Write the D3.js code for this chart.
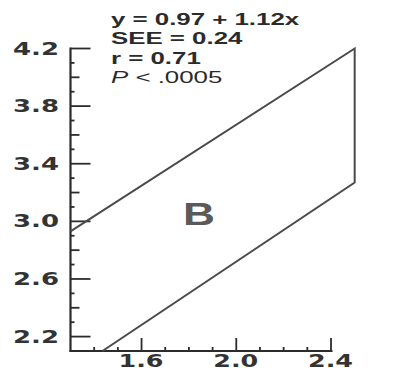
<!DOCTYPE html>
<html>
<head>
<meta charset="utf-8">
<script src="https://cdn.jsdelivr.net/npm/d3@7"></script>
<style>
  html, body { margin: 0; padding: 0; background: #fff; }
  svg { display: block; }
</style>
</head>
<body>
<svg id="chart" width="396" height="375"></svg>
<script>
// Axis ranges and ticks
const xDomain = [1.3, 2.4];
const yDomain = [2.1, 4.2];
const xTickLabels = ["1.6", "2.0", "2.4"];
const yTickLabels = ["4.2", "3.8", "3.4", "3.0", "2.6", "2.2"];

// Prediction band around the regression line: upper edge, lower edge
const upperX = [1.3, 2.5];
const upperY = [2.93, 4.2];
const lowerX = [1.435, 2.5];
const lowerY = [2.1, 3.27];

// Regression summary
const statLines = ["y = 0.97 + 1.12x", "SEE = 0.24", "r = 0.71", "P < .0005"];
const panelLabel = "B";

const svg = d3.select("#chart");
const x = d3.scaleLinear().domain(xDomain).range([70.5, 331]);
const y = d3.scaleLinear().domain(yDomain).range([351, 48.5]);

const ink = "#2b2b2b";

// tenth-step tick values
const tenths = (lo, hi) => d3.range(Math.round(lo * 10), Math.round(hi * 10) + 1).map(v => v / 10);
const isMul = (v, m) => Math.abs(Math.round(v * 10) % m) === 0;

// ---- Y axis: long ticks every 0.4, medium at 0.2, short at 0.1
const yMajor = yTickLabels.map(Number);
const yAxisG = svg.append("g").attr("transform", `translate(${x(xDomain[0])},0)`);
yAxisG.append("line")
  .attr("x1", 0).attr("x2", 0)
  .attr("y1", y(yDomain[1]) - 1).attr("y2", y(yDomain[0]) + 1)
  .attr("stroke", ink).attr("stroke-width", 2.2);
yAxisG.selectAll("line.tick")
  .data(tenths(2.2, 4.2))
  .join("line")
  .attr("class", "tick")
  .attr("x1", 0)
  .attr("x2", d => yMajor.some(m => Math.abs(m - d) < 1e-6) ? 20 : (isMul(d, 2) ? 9 : 4))
  .attr("y1", d => y(d)).attr("y2", d => y(d))
  .attr("stroke", ink).attr("stroke-width", 1.8);

svg.append("g").selectAll("text")
  .data(yTickLabels)
  .join("text")
  .attr("x", 13)
  .attr("y", d => y(+d))
  .attr("dy", "0.36em")
  .attr("textLength", 46)
  .attr("lengthAdjust", "spacingAndGlyphs")
  .attr("font-family", "DejaVu Sans, sans-serif")
  .attr("font-weight", "bold")
  .attr("font-size", 17)
  .attr("fill", "#333")
  .text(d => d);

// ---- X axis: ticks rise from the baseline
const xMajor = xTickLabels.map(Number);
const xAxisG = svg.append("g").attr("transform", `translate(0,${y(yDomain[0])})`);
xAxisG.append("line")
  .attr("x1", x(xDomain[0]) - 1).attr("x2", x(xDomain[1]) + 1.5)
  .attr("y1", 0).attr("y2", 0)
  .attr("stroke", ink).attr("stroke-width", 2.2);
xAxisG.selectAll("line.tick")
  .data(tenths(1.4, 2.4))
  .join("line")
  .attr("class", "tick")
  .attr("x1", d => x(d)).attr("x2", d => x(d))
  .attr("y1", 0)
  .attr("y2", d => xMajor.some(m => Math.abs(m - d) < 1e-6) ? -13 : -4)
  .attr("stroke", ink).attr("stroke-width", 1.8);

svg.append("g").selectAll("text")
  .data(xTickLabels)
  .join("text")
  .attr("x", d => x(+d) - 23)
  .attr("y", 367)
  .attr("textLength", 45)
  .attr("lengthAdjust", "spacingAndGlyphs")
  .attr("font-family", "DejaVu Sans, sans-serif")
  .attr("font-weight", "bold")
  .attr("font-size", 17)
  .attr("fill", "#333")
  .text(d => d);

// ---- Band outline: upper edge, closing vertical, lower edge
const bandPts = [
  [upperX[0], upperY[0]],
  [upperX[1], upperY[1]],
  [lowerX[1], lowerY[1]],
  [lowerX[0], lowerY[0]]
];
svg.append("path")
  .attr("d", d3.line().x(d => x(d[0])).y(d => y(d[1]))(bandPts))
  .attr("fill", "none")
  .attr("stroke", "#4a4a4a")
  .attr("stroke-width", 2)
  .attr("stroke-linejoin", "miter");

// ---- Regression statistics
const stats = svg.append("g").attr("transform", "translate(111,0) scale(1.52,1)");
stats.selectAll("text")
  .data(statLines)
  .join("text")
  .attr("x", 0)
  .attr("y", (d, i) => 25 + i * 19.3)
  .attr("font-family", "Liberation Sans, Arial, sans-serif")
  .attr("font-weight", "bold")
  .attr("font-size", 17)
  .attr("fill", ink)
  .each(function (d) {
    const t = d3.select(this);
    if (d.startsWith("P ")) {
      t.append("tspan").attr("font-style", "italic").attr("font-weight", "normal").text("P");
      t.append("tspan").attr("font-weight", "normal").text(d.slice(1));
    } else {
      t.text(d);
    }
  });

// ---- Panel letter
svg.append("text")
  .attr("x", 183)
  .attr("y", 225)
  .attr("textLength", 32)
  .attr("lengthAdjust", "spacingAndGlyphs")
  .attr("font-family", "Liberation Sans, Arial, sans-serif")
  .attr("font-weight", "bold")
  .attr("font-size", 30.5)
  .attr("fill", "#5a5a5a")
  .text(panelLabel);
</script>
</body>
</html>
